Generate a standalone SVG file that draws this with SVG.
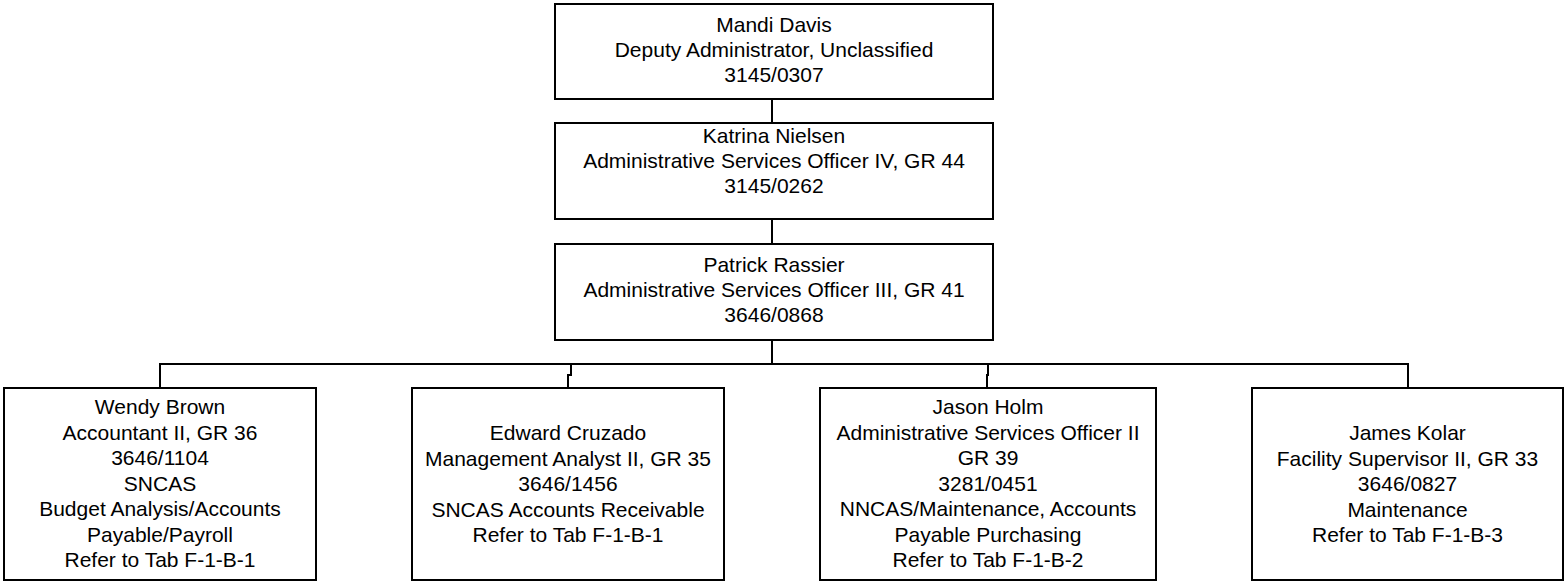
<svg xmlns="http://www.w3.org/2000/svg" width="1564" height="581" viewBox="0 0 1564 581">
<style>
.box{fill:#fff;stroke:#000;stroke-width:2}
.ln{fill:none;stroke:#000;stroke-width:2}
text{font-family:"Liberation Sans",Arial,sans-serif;font-size:21px;fill:#000;text-anchor:middle}
</style>
<rect width="1564" height="581" fill="#fff"/>
<g id="connectors">
<path class="ln" d="M772 99V123"/>
<path class="ln" d="M772 219V244"/>
<path class="ln" d="M772 340V364"/>
<path class="ln" d="M160 388V364H1408V388"/>
<path class="ln" d="M571 364V375H568V388"/>
<path class="ln" d="M988 364V375H987V388"/>
</g>
<g id="mandi">
<rect class="box" x="555" y="4" width="438" height="95"/>
<text x="774" y="32">Mandi Davis</text>
<text x="774" y="57">Deputy Administrator, Unclassified</text>
<text x="774" y="82">3145/0307</text>
</g>
<g id="katrina">
<rect class="box" x="555" y="123" width="438" height="96"/>
<text x="774" y="143">Katrina Nielsen</text>
<text x="774" y="168">Administrative Services Officer IV, GR 44</text>
<text x="774" y="193">3145/0262</text>
</g>
<g id="patrick">
<rect class="box" x="555" y="244" width="438" height="96"/>
<text x="774" y="272">Patrick Rassier</text>
<text x="774" y="297">Administrative Services Officer III, GR 41</text>
<text x="774" y="322">3646/0868</text>
</g>
<g id="wendy">
<rect class="box" x="4" y="388" width="312" height="192"/>
<text x="160" y="414">Wendy Brown</text>
<text x="160" y="439.5">Accountant II, GR 36</text>
<text x="160" y="465">3646/1104</text>
<text x="160" y="490.5">SNCAS</text>
<text x="160" y="516">Budget Analysis/Accounts</text>
<text x="160" y="541.5">Payable/Payroll</text>
<text x="160" y="567">Refer to Tab F-1-B-1</text>
</g>
<g id="edward">
<rect class="box" x="412" y="388" width="312" height="192"/>
<text x="568" y="440">Edward Cruzado</text>
<text x="568" y="465.5">Management Analyst II, GR 35</text>
<text x="568" y="491">3646/1456</text>
<text x="568" y="516.5">SNCAS Accounts Receivable</text>
<text x="568" y="542">Refer to Tab F-1-B-1</text>
</g>
<g id="jason">
<rect class="box" x="820" y="388" width="336" height="192"/>
<text x="988" y="414">Jason Holm</text>
<text x="988" y="439.5">Administrative Services Officer II</text>
<text x="988" y="465">GR 39</text>
<text x="988" y="490.5">3281/0451</text>
<text x="988" y="516">NNCAS/Maintenance, Accounts</text>
<text x="988" y="541.5">Payable Purchasing</text>
<text x="988" y="567">Refer to Tab F-1-B-2</text>
</g>
<g id="james">
<rect class="box" x="1252" y="388" width="311" height="192"/>
<text x="1407.5" y="440">James Kolar</text>
<text x="1407.5" y="465.5">Facility Supervisor II, GR 33</text>
<text x="1407.5" y="491">3646/0827</text>
<text x="1407.5" y="516.5">Maintenance</text>
<text x="1407.5" y="542">Refer to Tab F-1-B-3</text>
</g>
</svg>
